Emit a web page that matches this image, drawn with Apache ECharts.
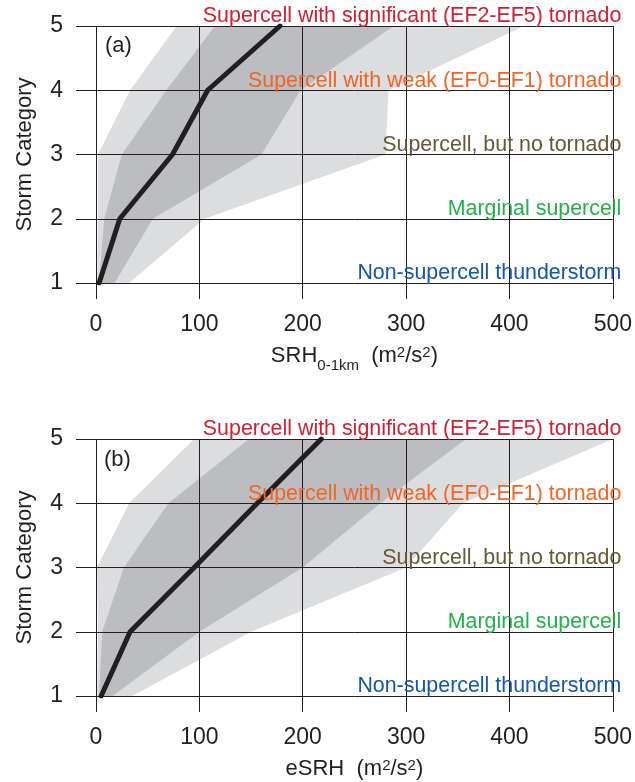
<!DOCTYPE html>
<html>
<head>
<meta charset="utf-8">
<script src="https://cdn.jsdelivr.net/npm/echarts@6/dist/echarts.min.js"></script>
<style>
html,body{margin:0;padding:0;background:#fff;}
#chart{width:635px;height:782px;}
</style>
</head>
<body>
<div id="chart"></div>
<script>
// ---------- data ----------
const categories = [1, 2, 3, 4, 5];

// (a) SRH 0-1km
const srhMedian     = [3, 23, 74, 108, 178];
const srhDarkLeft   = [3, 8, 25, 68, 115];
const srhDarkRight  = [18, 55, 160, 198, 288];
const srhLightLeft  = [1, 2, 2, 33, 78];
const srhLightRight = [32, 105, 280, 283, 414];

// (b) eSRH
const esrhMedian     = [5, 33, 95, 156, 218];
const esrhDarkLeft   = [3, 6, 27, 70, 148];
const esrhDarkRight  = [16, 100, 200, 275, 358];
const esrhLightLeft  = [1, 2, 1, 32, 95];
const esrhLightRight = [35, 150, 300, 355, 500];

const annotationLabels = [
  'Non-supercell thunderstorm',
  'Marginal supercell',
  'Supercell, but no tornado',
  'Supercell with weak (EF0-EF1) tornado',
  'Supercell with significant (EF2-EF5) tornado'
];
const annotationColors = ['#1357a8', '#22b24a', '#6b5634', '#f26522', '#cc2233'];

// ---------- styles ----------
const FONT = '"Liberation Sans", Arial, Helvetica, sans-serif';
const INK = '#231f20';
const LIGHT = '#dcdddf';
const DARK = '#bcbdc0';

const chart = echarts.init(document.getElementById('chart'), null, {renderer: 'canvas'});

function bandSeries(idx, left, right, color, z) {
  return {
    type: 'custom',
    xAxisIndex: idx, yAxisIndex: idx,
    z: z, silent: true,
    data: categories.map((c, i) => [left[i], right[i], c]),
    encode: {x: [0, 1], y: 2},
    renderItem: function (params, api) {
      if (params.dataIndexInside !== 0) return null;
      const n = params.dataInsideLength;
      const pts = [];
      for (let i = 0; i < n; i++) pts.push(api.coord([api.value(0, i), api.value(2, i)]));
      for (let i = n - 1; i >= 0; i--) pts.push(api.coord([api.value(1, i), api.value(2, i)]));
      return {type: 'polygon', shape: {points: pts}, style: {fill: color}};
    }
  };
}

function lineSeries(idx, xs) {
  return {
    type: 'line', xAxisIndex: idx, yAxisIndex: idx, z: 4,
    data: categories.map((c, i) => [xs[i], c]),
    symbol: 'none', silent: true,
    lineStyle: {color: INK, width: 5, cap: 'round', join: 'round'}
  };
}

function annotationSeries(idx) {
  return {
    type: 'scatter', xAxisIndex: idx, yAxisIndex: idx, z: 5,
    clip: false, silent: true, symbolSize: 1,
    itemStyle: {color: 'rgba(0,0,0,0)', opacity: 1},
    data: categories.map((c, i) => ({
      value: [500, c], name: annotationLabels[i],
      label: {color: annotationColors[i]}
    })),
    label: {
      show: true, formatter: '{b}', position: 'left', distance: 0,
      align: 'right', verticalAlign: 'bottom', offset: [9, 1],
      fontFamily: FONT, fontSize: 21.4, opacity: 1
    }
  };
}

function xAxis(idx, nameText) {
  return {
    type: 'value', gridIndex: idx, min: 0, max: 500, interval: 100, z: 3,
    axisLine: {show: false},
    axisTick: {show: true, length: 16, lineStyle: {color: INK, width: 1}},
    splitLine: {show: true, lineStyle: {color: INK, width: 1}},
    axisLabel: {color: INK, fontFamily: FONT, fontSize: 23, margin: 30},
    name: nameText, nameLocation: 'middle', nameGap: 62,
    nameTextStyle: {
      color: INK, fontFamily: FONT, fontSize: 22,
      rich: {
        n: {fontFamily: FONT, fontSize: 22, color: INK, verticalAlign: 'top', lineHeight: 24},
        sub: {fontFamily: FONT, fontSize: 15, color: INK, verticalAlign: 'top', lineHeight: 15, padding: [13, 0, 0, 0]},
        sup: {fontFamily: FONT, fontSize: 15, color: INK, verticalAlign: 'top', lineHeight: 15, padding: [0, 0, 0, 0]}
      }
    }
  };
}

function yAxis(idx) {
  return {
    type: 'value', gridIndex: idx, min: 1, max: 5, interval: 1, z: 3,
    axisLine: {show: false},
    axisTick: {show: true, length: 20, lineStyle: {color: INK, width: 1}},
    splitLine: {show: true, lineStyle: {color: INK, width: 1}},
    axisLabel: {color: INK, fontFamily: FONT, fontSize: 23, margin: 33},
    name: 'Storm Category', nameLocation: 'middle', nameGap: 60,
    nameTextStyle: {color: INK, fontFamily: FONT, fontSize: 22}
  };
}

chart.setOption({
  animation: false,
  backgroundColor: '#ffffff',
  grid: [
    {left: 96, top: 26, width: 527, height: 257},
    {left: 96, top: 439, width: 527, height: 257}
  ],
  xAxis: [
    xAxis(0, '{n|SRH}{sub|0-1km}{n|  (m}{sup|2}{n|/s}{sup|2}{n|)}'),
    xAxis(1, '{n|eSRH  (m}{sup|2}{n|/s}{sup|2}{n|)}')
  ],
  yAxis: [yAxis(0), yAxis(1)],
  graphic: [
    {type: 'text', left: 105, top: 35, z: 10,
     style: {text: '(a)', fill: INK, font: '22px ' + FONT}},
    {type: 'text', left: 104, top: 449, z: 10,
     style: {text: '(b)', fill: INK, font: '22px ' + FONT}}
  ],
  series: [
    bandSeries(0, srhLightLeft, srhLightRight, LIGHT, 1),
    bandSeries(0, srhDarkLeft, srhDarkRight, DARK, 2),
    lineSeries(0, srhMedian),
    annotationSeries(0),
    bandSeries(1, esrhLightLeft, esrhLightRight, LIGHT, 1),
    bandSeries(1, esrhDarkLeft, esrhDarkRight, DARK, 2),
    lineSeries(1, esrhMedian),
    annotationSeries(1)
  ]
});
</script>
</body>
</html>
